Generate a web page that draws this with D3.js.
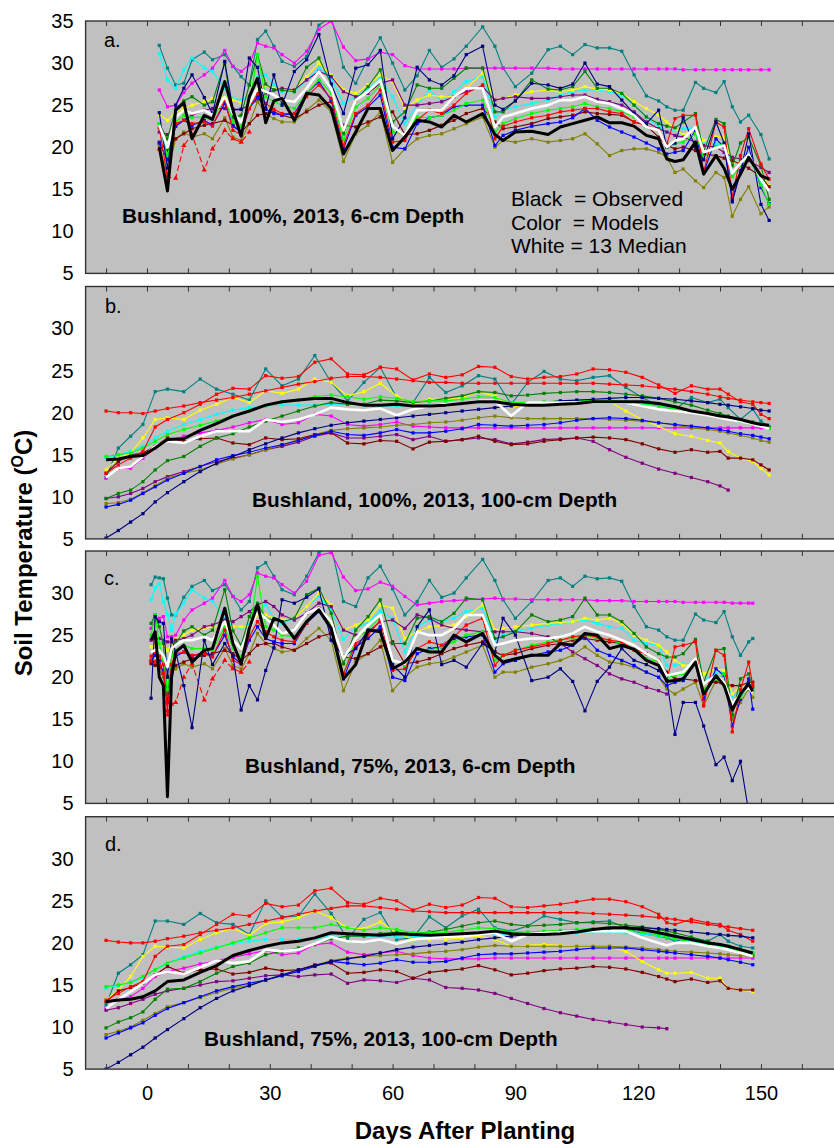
<!DOCTYPE html>
<html>
<head>
<meta charset="utf-8" />
<title>Soil temperature, Bushland 2013</title>
<script src="https://d3js.org/d3.v7.min.js"></script>
<style>
  body { margin: 0; background: #fff; }
  svg { display: block; font-family: "Liberation Sans", Arial, sans-serif; }
</style>
</head>
<body>
<svg width="834" height="1146"></svg>
<script>
// ---- days after planting sampled per panel ----
const daysA = [3,5,7,9,11,14,16,19,21,23,25,27,29,31,33,36,39,42,45,48,51,54,57,60,63,66,69,72,75,78,82,85,87,90,94,98,101,104,107,110,113,116,119,122,125,127,129,131,134,136,139,141,143,145,147,150,152];
const daysC = [1,2,3,4,5,6,7,9,11,14,16,19,21,23,25,27,29,31,33,36,39,42,45,48,51,54,57,60,63,66,69,72,75,78,82,85,87,90,94,98,101,104,107,110,113,116,119,122,125,127,129,131,134,136,139,141,143,145,147,148];
const daysB = [-10,-7,-4,-1,2,5,9,13,17,21,25,29,33,37,41,45,49,53,57,61,65,69,73,77,81,85,89,93,97,101,105,109,113,117,121,125,129,133,137,140,142,145,148,150,152];
const daysD = [-10,-7,-4,-1,2,5,9,13,17,21,25,29,33,37,41,45,49,53,57,61,65,69,73,77,81,85,89,93,97,101,105,109,113,117,121,125,127,129,133,137,140,142,145,148];

const xTicks = [0, 30, 60, 90, 120, 150];
const yTicksTop = [5, 10, 15, 20, 25, 30, 35];
const yTicksRest = [5, 10, 15, 20, 25, 30];

// ---- a. 100%, 6-cm ----
const a_obs = [20.0,14.8,24.4,25.3,21.0, 23.8,23.3,27.8,24.4,21.3, 26.0,28.2,22.9,25.5,25.8, 23.2,26.4,26.2,24.6,19.2, 21.8,24.6,24.6,19.6,21.2, 23.2,23.0,22.4,23.8,23.0, 24.0,21.5,20.8,21.8,21.9, 21.5,22.4,22.8,23.2,23.6, 22.9,22.9,22.5,21.4,21.0, 18.6,18.3,18.5,20.6,16.8, 19.0,17.5,15.0,16.8,18.8, 16.6,16.2];
const a_med = [22.6,20.0,23.6,24.4,24.0, 24.4,23.8,26.0,24.0,23.0, 25.2,27.0,26.6,26.2,25.6, 25.4,27.0,29.0,27.0,22.0, 25.6,26.6,28.0,22.5,21.4, 24.4,24.4,24.4,26.0,27.0, 27.0,22.4,23.6,24.0,24.6, 25.0,25.6,25.6,26.0,25.4, 25.2,24.6,23.8,22.4,22.0, 20.0,20.8,21.0,22.4,19.4, 19.9,20.2,16.9,18.1,19.1, 16.2,14.8];
const a_teal = [32.1,29.4,27.4,27.6,30.4, 31.3,30.4,31.0,29.6,28.4, 27.4,32.8,33.8,32.0,30.2, 29.6,30.8,34.5,35.5,29.5, 27.6,30.5,33.0,30.0,26.8, 28.5,31.5,29.5,30.5,32.0, 34.3,32.0,29.4,27.2,28.8, 31.6,32.0,31.0,32.2,31.8, 31.8,31.4,28.6,26.1,25.5, 24.8,24.4,24.4,27.7,27.0, 26.5,27.8,24.8,23.0,23.8, 21.5,18.6];
const a_mag = [26.8,24.8,25.0,26.5,27.6, 28.6,29.4,31.5,29.6,29.0, 29.8,32.4,32.0,31.8,31.0, 30.0,31.4,34.0,35.0,31.9, 30.3,30.5,31.3,31.0,29.7, 29.3,29.3,29.3,29.3,29.4, 29.4,29.4,29.4,29.4,29.4, 29.4,29.3,29.3,29.3,29.3, 29.3,29.3,29.3,29.3,29.3, 29.3,29.3,29.2,29.2,29.2, 29.2,29.2,29.2,29.2,29.2, 29.2,29.2];
const a_cyan = [31.1,28.0,27.0,29.2,30.6, 29.4,29.0,27.0,25.8,25.6, 26.0,28.3,28.6,27.4,26.6, 26.6,28.0,29.4,28.2,25.2, 26.0,26.9,28.2,26.0,22.8, 25.0,26.8,25.5,26.6,27.8, 28.4,23.6,24.4,24.8,25.2, 25.6,26.2,26.6,26.8,26.8, 26.6,26.2,25.0,23.6,22.4, 21.8,22.0,22.2,22.3,20.5, 20.4,20.4,17.8,18.5,18.8, 15.7,15.3];
const a_yel = [23.9,23.2,24.2,24.6,25.0, 25.4,25.8,26.0,25.6,25.3, 25.2,26.8,27.4,27.0,26.8, 26.8,28.4,30.0,28.6,26.8, 26.4,27.4,28.6,27.8,24.6, 25.6,26.2,26.0,26.0,27.0, 28.8,25.6,25.8,26.2,26.6, 26.8,26.6,26.8,27.2,26.9, 26.8,26.4,25.4,24.6,23.8, 23.0,22.2,21.5,22.2,20.8, 21.2,21.2,18.0,18.4,18.8, 16.8,15.4];
const a_navy = [24.1,17.5,25.0,27.0,28.6, 25.9,24.0,30.2,24.5,24.5, 30.6,29.5,24.6,28.6,25.0, 29.0,30.4,33.4,27.5,24.0, 29.4,29.8,31.5,21.0,23.5, 29.5,28.0,27.4,28.5,31.0, 32.0,25.0,24.5,25.5,27.6, 27.4,27.0,27.5,30.0,27.5, 27.2,25.6,24.0,22.8,24.4, 20.0,20.5,23.5,20.0,18.5, 23.0,20.5,13.5,17.0,21.6, 13.2,11.3];
const a_green = [22.8,21.0,24.5,25.5,26.0, 25.0,25.4,30.0,23.5,23.8, 27.4,31.0,27.5,26.8,26.8, 26.6,29.5,30.6,27.5,21.6, 25.6,27.2,29.2,23.0,24.2, 27.4,27.0,27.0,28.2,29.4, 29.4,24.2,24.2,25.5,28.0, 26.9,26.8,27.2,29.0,27.0, 27.0,26.4,25.0,23.6,22.8, 22.5,22.3,23.0,24.0,19.5, 23.3,22.8,17.8,20.5,21.2, 17.8,13.8];
const a_lime = [22.8,19.0,23.0,23.8,23.5, 23.6,23.2,26.0,23.0,22.5, 25.0,31.0,26.0,25.4,25.0, 24.6,26.4,28.0,26.4,20.8, 24.8,25.8,27.4,21.8,21.5, 23.6,23.5,23.8,24.4,25.2, 25.6,21.8,22.8,23.4,24.0, 24.4,24.6,24.8,25.2,24.8, 24.6,24.2,23.6,22.4,22.0, 20.0,20.4,20.6,21.6,18.8, 20.0,20.5,16.5,17.8,19.0, 15.5,13.2];
const a_red = [22.3,16.5,22.8,23.2,22.8, 23.0,22.5,25.6,22.0,21.5, 24.6,26.4,25.2,24.5,24.0, 24.0,26.0,27.4,25.8,20.2, 24.0,25.0,26.8,20.6,20.8, 23.2,24.4,24.0,25.0,26.4, 27.4,21.0,22.5,23.0,23.5, 23.8,24.2,24.4,24.6,24.6, 24.2,24.0,23.0,22.6,22.0, 20.4,23.4,23.8,23.8,17.0, 23.0,22.4,14.0,19.0,22.2, 18.0,16.2];
const a_red2 = [19.8,16.5,16.3,20.2,21.5, 17.3,19.8,22.0,21.0,20.6, 21.8,null,null,null,null, null,null,null,null,null, null,null,null,null,null, null,null,null,null,null, null,null,null,null,null, null,null,null,null,null, null,null,null,null,null, null,null,null,null,null, null,null,null,null,null, null,null];
const a_purple = [21.8,21.5,22.5,23.2,23.8, 24.4,24.6,24.6,24.4,24.5, 25.0,25.6,26.4,26.8,27.0, 26.8,28.0,29.0,28.4,26.6, 26.0,26.4,27.6,28.0,25.0, 25.0,25.2,25.4,26.0,26.6, 27.2,25.6,25.8,26.0,25.8, 25.8,26.0,26.2,26.2,25.7, 25.4,25.0,24.2,23.0,22.2, 21.8,21.4,21.2,20.6,20.2, 20.0,19.4,18.8,18.6,18.4, 17.6,17.0];
const a_blue = [20.5,18.5,22.5,23.2,22.6, 23.2,22.6,25.2,22.5,21.8, 24.6,26.0,24.5,24.0,23.8, 24.0,26.4,27.8,25.6,19.8, 23.8,24.8,26.2,20.0,19.8, 22.8,23.5,23.8,24.8,25.0, 25.0,20.2,21.4,22.0,22.5, 22.8,23.0,23.5,24.6,23.2, 22.4,21.8,21.2,20.5,19.8, 19.2,19.4,19.6,22.0,17.0, 21.0,20.0,13.8,17.2,20.0, 15.2,13.3];
const a_maroon = [20.6,19.6,21.0,21.6,22.2, 22.6,22.8,23.2,22.6,21.8, 22.8,23.8,24.0,24.2,23.8, 23.4,24.2,25.0,25.4,22.6, 22.4,23.0,23.6,24.2,21.5, 21.6,22.0,22.6,23.2,24.0, 24.6,23.0,22.2,22.4,22.8, 23.4,23.6,23.8,24.2,24.0, 23.9,23.8,23.0,22.6,21.2, 20.2,19.8,20.0,19.6,19.2, 19.0,18.7,18.4,18.0,17.5, 16.5,15.3];
const a_olive = [20.2,16.8,21.0,21.8,21.2, 21.6,21.0,23.5,21.2,20.8, 22.8,25.4,24.0,23.4,23.0, 23.0,24.4,25.6,24.2,18.3, 21.6,22.6,24.2,18.2,19.8, 21.0,21.4,21.6,22.2,22.8, 23.6,20.0,20.8,20.6,21.0, 20.6,20.8,21.0,21.6,20.4, 19.0,19.6,19.8,19.8,19.4, 18.8,17.0,17.4,16.0,15.2, 17.0,16.4,11.8,13.8,15.3, 12.1,12.9];

// ---- b. 100%, 100-cm ----
const b_obs = [14.4,14.5,14.8,14.9,15.8, 16.8,16.9,17.9,18.7,19.6, 20.2,20.9,21.3,21.5,21.7, 21.7,21.2,20.9,20.9,21.0, 20.8,20.8,20.9,21.1,21.3, 21.3,21.0,20.9,20.9,21.0, 21.1,21.3,21.3,21.3,21.3, 21.1,20.7,20.2,19.9,19.6, 19.5,19.2,18.8,18.6,18.5];
const b_med = [12.3,13.4,13.6,14.8,16.0, 16.6,16.4,17.2,17.8,17.8, 17.8,19.2,18.9,19.2,19.8, 20.6,20.4,20.3,20.5,19.7, 20.4,20.8,21.0,21.1,21.4, 21.4,19.6,21.2,21.2,21.2, 21.2,21.2,21.2,21.2,20.8, 20.4,20.2,20.0,19.7,19.4, 19.2,19.0,18.7,18.4,18.1];
const b_teal = [12.3,15.8,17.2,18.6,22.5, 22.8,22.5,24.0,22.8,22.2, 21.5,25.2,23.2,24.0,26.8, 23.6,21.4,23.6,25.4,21.8, 21.2,24.2,22.4,23.2,24.4, 24.0,21.0,23.6,24.9,24.0, 23.8,24.2,24.4,23.0,21.8, 20.8,20.4,21.8,21.2,21.6, 20.6,19.2,20.4,19.0,18.3];
const b_red = [20.2,20.0,20.0,19.9,20.2, 20.5,20.8,21.2,21.5,21.8, 22.2,22.6,23.0,23.4,23.7, 24.1,24.3,24.3,24.2,24.0, 23.8,23.6,23.6,23.5,23.5, 23.5,23.5,23.5,23.5,23.5, 23.5,23.5,23.4,23.3,23.2, 23.0,22.8,22.5,22.2,21.9, 21.7,21.5,21.3,21.2,21.1];
const b_red2 = [12.8,13.8,14.6,15.4,18.3, 19.2,20.0,21.0,22.2,22.9, 22.8,24.4,24.1,24.3,26.0, 26.4,24.6,24.5,25.4,25.2, 23.9,24.6,24.2,24.5,25.5, 25.4,24.3,24.0,24.2,24.3, 24.6,25.2,25.1,24.8,24.2, 23.3,22.3,23.2,22.8,22.8, 22.2,21.3,21.0,19.8,19.3];
const b_yel = [13.2,14.6,15.2,17.0,19.2, 19.4,19.2,20.3,21.0,21.8, 21.2,22.6,22.3,22.8,24.0, 23.6,22.0,22.5,23.5,22.0, 21.0,21.6,21.6,21.8,22.5, 22.0,20.7,20.9,21.1,21.3, 21.4,21.5,21.3,20.2,19.2, 18.4,17.5,17.2,16.7,16.4, 15.4,14.6,14.2,13.4,12.6];
const b_lime = [14.8,15.0,15.2,15.8,16.6, 17.4,18.0,18.5,19.0,19.6, 20.2,20.8,21.3,21.5,21.9, 22.1,21.9,21.6,21.9,21.7, 21.3,21.4,21.4,21.6,21.9, 21.8,21.2,21.2,21.3,21.4, 21.4,21.5,21.5,21.3,21.1, 20.8,20.4,20.1,19.8,19.5, 19.3,19.0,18.7,18.4,18.1];
const b_green = [9.8,10.4,10.8,11.8,13.2, 14.3,14.8,16.0,17.0,17.5, 18.3,19.0,19.6,20.2,20.8, 21.2,21.0,21.0,21.5,21.4, 21.2,21.4,21.7,22.0,22.5, 22.4,22.0,22.1,22.3,22.4, 22.5,22.5,22.4,22.2,22.0, 21.7,21.3,20.9,20.3,19.9, 19.6,19.2,18.9,18.6,18.3];
const b_cyan = [14.6,15.0,15.4,16.0,17.0, 17.8,18.6,19.2,19.8,20.3, 20.6,20.8,20.9,20.9,20.9, 21.0,21.0,20.9,20.8,20.8, 20.8,20.9,21.0,21.1,21.2, 21.2,21.0,21.0,21.0,21.1, 21.2,21.2,21.2,21.2,21.0, 20.8,20.6,20.2,19.8,19.5, 19.3,19.0,18.7,18.5,18.3];
const b_navy = [5.1,6.0,7.0,8.0,9.4, 10.5,11.8,13.0,14.0,14.8, 15.6,16.3,17.0,17.6,18.1, 18.5,18.8,19.0,19.2,19.4, 19.6,19.8,20.0,20.2,20.4, 20.6,20.8,21.0,21.2,21.4, 21.5,21.6,21.7,21.8,21.8, 21.7,21.6,21.4,21.2,21.0, 20.9,20.7,20.5,20.3,20.2];
const b_blue = [8.8,9.1,9.6,10.4,11.2, 12.0,12.8,13.6,14.4,14.9, 15.3,15.8,16.2,16.7,17.3, 17.8,17.4,17.3,17.6,18.0, 17.6,17.6,17.8,18.1,18.6, 18.5,18.4,18.5,18.6,18.8, 19.1,19.3,19.4,19.3,19.1, 18.8,18.6,18.4,18.2,18.0, 17.8,17.5,17.3,17.1,16.9];
const b_mag = [12.2,13.4,13.4,14.6,15.8, 16.6,17.2,17.6,17.9,18.3, 18.8,19.2,18.6,18.8,19.8, 19.6,18.6,18.4,18.6,18.9, 18.4,18.3,18.2,18.2,18.2, 18.2,18.2,18.2,18.2,18.2, 18.2,18.2,18.2,18.2,18.2, 18.2,18.2,18.2,18.2,18.2, 18.2,18.2,18.2,18.2,18.2];
const b_olive = [9.2,9.3,9.7,10.5,11.3, 12.2,12.8,13.2,13.9,14.5, 15.0,15.6,16.2,16.8,17.4, 17.9,18.1,18.2,18.3,18.5, 18.6,18.8,18.9,19.1,19.4, 19.6,19.4,19.3,19.3,19.3, 19.3,19.3,19.2,19.1,19.0, 18.8,18.5,18.2,18.0,17.8, 17.6,17.3,17.0,16.7,16.5];
const b_purple = [9.8,10.0,10.4,11.0,11.8, 12.4,13.0,13.6,14.2,14.6, 15.0,15.6,16.0,16.5,17.2, 17.6,17.0,17.0,17.2,17.4, 16.8,17.2,16.6,16.8,17.0, 16.8,16.3,16.5,16.8,16.9, 17.0,16.6,15.6,14.7,14.0, 13.3,12.8,12.3,11.8,11.3, 10.8,null,null,null,null];
const b_maroon = [12.8,14.2,15.0,15.2,16.0, 17.0,16.6,16.9,17.0,16.4, 16.2,17.0,16.8,16.9,17.4, 17.6,16.4,16.3,16.7,16.6, 15.7,16.5,16.6,16.8,17.2, 16.6,16.2,16.3,16.6,16.8, 17.0,17.1,17.0,16.8,16.3, 15.7,15.3,15.6,15.3,15.4, 14.6,14.6,14.4,13.8,13.2];

// ---- c. 75%, 6-cm ----
const c_obs = [24.4,25.4,20.0,19.0,5.8, 20.0,23.0,23.8,21.8,23.2, 23.4,28.2,24.0,21.6,25.8, 28.6,24.6,27.0,26.6,24.6, 26.6,28.0,25.8,19.8,21.5, 25.6,25.4,21.0,21.8,23.4, 23.0,23.0,25.0,24.2,25.2, 22.6,21.8,22.2,22.6,22.6, 24.0,23.8,25.2,25.0,23.4, 23.8,23.3,22.0,21.4,19.5, 19.6,19.8,21.8,18.0,20.2, 19.0,16.1,18.0,19.2,18.3];
const c_med = [23.0,23.2,23.2,22.6,21.2, 23.4,23.8,24.4,24.4,24.8, 24.4,26.6,24.4,23.4,25.6, 27.8,27.0,26.2,25.2,25.6, 27.6,28.2,26.6,22.2,24.6, 26.2,27.4,22.0,21.6,25.4, 25.0,25.0,25.8,27.4,27.4, 23.8,24.0,24.4,24.6,24.6, 24.8,25.2,26.0,25.4,25.0, 24.4,23.8,22.8,22.0,20.2, 20.4,20.6,22.2,19.2,20.2, 19.4,16.8,18.0,18.8,18.1];
const c_teal = [31.0,31.9,31.8,31.7,29.4, 27.4,27.4,29.5,30.8,31.5, 30.3,31.0,29.6,28.0,29.0, 33.0,33.6,32.0,30.4,29.8, 32.0,34.8,35.5,29.0,28.4, 31.8,33.2,30.5,27.4,29.0, 31.5,29.5,30.0,31.8,34.0, 31.5,29.2,27.0,29.0,31.5, 31.8,30.8,32.0,31.7,31.8, 31.4,28.4,26.0,25.6,24.8, 24.4,24.4,27.5,26.8,26.5, 27.8,24.8,22.6,24.2,24.6];
const c_mag = [25.8,26.8,27.0,27.2,24.8, 24.8,25.0,26.8,28.0,28.8, 29.4,31.5,29.6,29.0,29.8, 32.4,32.0,31.8,31.0,30.0, 31.4,34.5,34.8,31.9,30.3, 30.5,31.3,30.8,29.6,28.6, 28.8,29.0,29.1,29.2,29.3, 29.4,29.3,29.3,29.2,29.2, 29.2,29.2,29.2,29.1,29.1, 29.1,29.0,29.0,29.0,29.0, 29.0,28.9,28.9,28.9,28.9, 28.9,28.8,28.8,28.8,28.8];
const c_cyan = [29.2,30.6,31.1,29.0,27.5, 25.6,27.5,28.8,30.4,29.4, 29.0,27.0,26.0,25.8,26.2, 28.0,28.6,27.0,26.4,27.0, 28.4,29.6,28.0,24.5,25.8, 26.5,27.8,27.0,23.0,26.0, 26.8,26.6,27.0,27.8,28.2, 24.4,25.0,25.4,25.8,26.2, 26.4,26.6,26.8,26.4,26.0, 25.8,24.4,24.0,23.8,21.4, 21.4,21.6,21.6,19.6,20.4, 20.6,17.7,18.2,18.8,18.5];
const c_yel = [23.6,23.8,24.0,23.8,23.2, 24.0,24.6,25.0,25.6,25.8, 26.0,26.2,26.0,26.0,26.0, 27.4,27.4,27.0,26.8,27.0, 28.4,30.0,28.6,25.6,26.2, 26.8,28.6,28.2,24.6,25.4, 26.0,26.1,26.2,27.2,28.6, 25.6,25.8,26.0,26.2,26.4, 26.5,26.6,27.0,26.8,27.0, 26.4,25.0,24.4,23.8,23.0, 22.0,21.4,21.6,20.4,21.0, 20.8,18.0,19.0,19.4,19.2];
const c_navy = [17.5,27.2,26.6,26.4,20.0, 24.6,23.0,19.0,14.0,24.4, 21.5,24.0,22.5,16.1,19.0, 17.3,20.8,23.5,29.2,28.8, 29.5,30.5,24.4,22.5,23.4, 25.6,25.6,21.5,20.0,26.0, 28.0,21.5,22.0,21.2,24.0, 23.0,27.0,25.0,19.6,20.0, 21.0,19.5,16.0,19.5,21.2, 23.4,22.0,21.5,20.8,19.6, 13.2,17.0,17.0,14.2,9.6, 10.5,7.7,10.0,4.0,null];
const c_green = [26.4,27.4,26.0,24.0,17.7, 23.0,24.0,25.5,26.0,25.0, 25.6,30.4,25.5,23.8,27.2, 28.8,27.0,26.8,26.6,27.0, 29.8,30.6,27.6,21.6,25.6, 27.2,29.2,24.0,24.0,27.0, 27.2,26.6,27.6,29.4,29.2, 24.6,24.8,25.4,27.4,26.6, 26.8,27.2,29.4,27.4,27.4, 26.6,25.2,23.6,22.8,22.4, 22.4,22.8,24.5,19.4,23.2, 23.4,15.5,19.8,20.4,18.8];
const c_lime = [25.0,27.4,24.0,22.0,18.5, 22.5,23.2,23.8,23.4,23.4, 23.2,26.0,23.4,22.4,25.0, 32.0,26.0,25.6,25.0,24.8, 26.6,28.2,26.2,20.4,24.6, 25.6,27.2,22.0,21.4,23.4, 23.2,23.6,24.2,25.0,25.4, 22.0,22.6,23.2,23.8,24.2, 24.4,24.6,25.0,24.6,24.4, 24.0,23.4,22.2,21.8,20.0, 20.2,20.4,21.4,18.6,19.8, 20.4,16.3,17.6,18.8,18.2];
const c_red = [22.5,23.0,22.5,21.5,16.0, 21.5,22.8,23.0,22.6,22.8, 22.4,25.6,22.0,21.5,24.8, 26.6,25.4,24.8,24.4,24.2, 26.4,28.2,26.0,20.4,24.0, 25.0,26.8,20.8,21.0,23.4, 24.2,23.8,24.8,26.2,27.0, 21.4,22.6,23.2,23.6,24.0, 24.4,24.8,25.0,24.8,24.4, 24.2,23.2,22.8,22.0,19.6, 23.6,23.8,24.2,16.6,23.2, 22.6,13.5,18.5,21.8,19.0];
const c_red2 = [22.0,21.8,21.5,20.5,15.5, 16.8,17.0,20.0,21.6,17.3, 19.8,22.0,21.0,20.6,21.8, null,null,null,null,null, null,null,null,null,null, null,null,null,null,null, null,null,null,null,null, null,null,null,null,null, null,null,null,null,null, null,null,null,null,null, null,null,null,null,null, null,null,null,null,null];
const c_purple = [24.4,24.6,24.6,24.4,24.2, 24.2,24.4,24.6,25.0,26.0, 26.2,26.8,26.6,27.2,27.8, 28.6,29.0,28.4,27.4,26.8, 27.6,28.8,28.4,25.6,25.0, 25.4,26.6,26.8,25.8,27.4, 27.0,26.2,25.8,25.6,25.4, 25.4,25.4,25.4,25.2,24.8, 24.0,23.0,22.2,21.4,20.4, 19.8,19.4,18.8,18.4,18.0, null,null,null,null,null, null,null,null,null,null];
const c_blue = [22.0,22.6,22.0,20.5,17.0, 21.5,22.5,23.0,22.5,23.0, 22.5,25.0,22.4,21.6,24.4, 26.0,24.6,24.2,24.0,24.0, 26.4,27.8,25.6,19.8,23.6, 24.6,26.0,20.0,19.6,22.8, 23.4,23.6,24.6,24.8,25.0, 20.6,21.6,22.0,22.6,23.0, 23.2,23.8,24.8,23.2,22.6, 22.0,21.4,20.6,20.0,19.0, 19.4,19.6,21.6,17.4,21.0, 20.2,14.2,17.4,19.8,16.2];
const c_maroon = [21.6,21.4,21.2,20.8,20.0, 20.8,21.4,21.8,22.2,22.6, 22.8,23.2,22.8,22.0,22.8, 23.8,24.0,24.0,23.6,23.2, 24.0,24.8,25.2,22.4,22.2, 22.8,23.6,24.2,21.6,21.8, 22.2,22.8,23.4,23.8,24.2, 23.0,22.6,22.8,23.4,23.8, 24.0,24.4,24.6,24.4,24.2, 24.0,23.4,22.8,21.8,20.6, 19.8,19.8,19.6,19.4,19.4, 19.2,19.0,19.0,19.4,19.4];
const c_olive = [21.8,21.6,21.0,20.0,17.0, 20.5,21.0,21.6,21.2,21.6, 21.0,23.4,21.4,21.0,22.8, 25.2,24.0,23.4,23.0,23.2, 24.6,25.8,24.4,18.4,21.8, 22.8,24.4,18.4,20.0,21.2, 21.6,21.8,22.4,23.0,23.8, 20.0,20.6,20.6,21.2,21.6, 22.0,22.6,23.6,22.6,21.8, 21.6,21.2,20.6,20.0,18.6, 18.0,18.6,19.4,16.6,19.6, 19.0,15.0,17.0,18.6,17.6];

// ---- d. 75%, 100-cm ----
const d_obs = [13.0,13.2,13.3,13.6,14.3, 15.4,15.6,16.5,17.3,18.5, 19.1,19.6,20.0,20.2,20.6, 21.2,21.1,21.0,20.9,21.1, 21.0,20.9,21.0,21.1,21.2, 21.4,21.1,21.0,21.0,21.1, 21.3,21.6,21.8,21.8,21.6, 21.2,21.0,20.8,20.4,20.0, 19.8,19.6,19.2,18.8];
const d_med = [12.2,13.3,14.2,15.2,16.2, 16.6,16.3,17.1,17.9,17.6, 17.8,19.2,19.0,19.2,19.9, 20.7,20.2,20.1,20.4,19.9, 20.4,20.6,20.7,20.8,21.0, 21.2,20.2,21.0,21.2,21.3, 21.4,21.4,21.4,21.4,20.6, 20.0,19.7,20.0,20.0,19.6, 19.4,19.2,18.8,18.4];
const d_teal = [12.6,16.4,17.4,18.6,22.6, 22.6,22.2,23.5,22.4,22.2, 21.0,25.0,23.1,23.2,25.8, 23.5,20.5,22.8,23.6,20.4, 20.6,23.1,21.8,23.2,24.0, 21.8,21.4,22.0,23.2,22.8, 22.4,22.5,22.6,21.8,21.1, 20.8,20.6,20.2,20.6,20.2, 21.0,20.2,19.6,19.4];
const d_red = [20.3,20.1,20.0,20.0,20.2, 20.5,20.8,21.2,21.5,21.8, 22.2,22.6,23.0,23.4,23.8, 24.1,24.4,24.4,24.2,24.0, 23.8,23.7,23.6,23.6,23.6, 23.6,23.6,23.6,23.6,23.6, 23.6,23.5,23.4,23.3,23.2, 23.0,22.9,22.8,22.5,22.2, 22.0,21.9,21.7,21.5];
const d_red2 = [13.2,14.0,14.8,15.4,18.4, 19.6,19.8,21.0,22.2,23.4, 23.2,24.7,24.3,24.5,26.2, 26.5,24.8,24.6,25.3,25.0, 23.9,24.6,24.2,24.5,25.4, 25.3,24.3,24.2,24.4,24.6, 24.9,25.2,25.2,24.9,24.3, 23.4,22.4,22.2,22.8,22.4, 22.2,21.5,21.0,20.2];
const d_yel = [13.2,14.4,16.0,18.4,19.6, 19.5,19.4,20.4,21.2,21.7, 20.9,22.3,22.5,23.0,23.8, 23.0,21.8,21.7,22.5,21.2, 20.4,20.4,20.4,20.6,20.8, 20.4,19.6,19.7,19.8,19.7, 19.6,19.6,19.5,19.0,17.8, 16.8,16.4,16.4,16.5,15.8, 15.8,14.6,14.4,14.2];
const d_lime = [14.8,15.0,15.3,16.0,16.8, 17.6,18.2,18.8,19.4,20.0, 20.6,21.2,21.8,21.8,21.8, 22.2,21.8,21.5,21.8,21.6, 21.2,21.2,21.3,21.5,21.8, 21.7,21.3,21.3,21.4,21.5, 21.6,21.7,21.7,21.5,21.3, 20.9,20.7,20.5,20.1,19.7, 19.5,19.3,19.0,18.8];
const d_green = [9.9,10.6,11.1,11.8,13.3, 14.5,14.6,15.4,16.4,17.2, 17.6,18.6,19.0,19.4,19.8, 20.5,20.8,20.8,21.1,21.3, 21.1,21.3,21.6,22.0,22.4, 22.6,22.2,22.0,22.1,22.2, 22.4,22.4,22.3,22.1,21.9, 21.6,21.4,21.2,20.7,20.2, 19.8,19.6,19.2,18.6];
const d_cyan = [14.6,14.9,15.3,15.9,16.8, 17.6,18.4,19.0,19.5,19.9, 20.2,20.4,20.4,20.4,20.5, 20.8,20.9,20.8,20.7,20.7, 20.7,20.8,20.9,21.0,21.1, 21.1,21.0,21.0,21.0,21.1, 21.2,21.3,21.3,21.2,21.1, 20.8,20.7,20.5,20.2,19.8, 19.6,19.4,19.0,18.7];
const d_navy = [5.0,5.8,6.7,7.6,8.7, 9.7,11.0,12.3,13.4,14.3, 14.9,15.6,16.2,16.8,17.3, 17.8,18.1,18.4,18.8,19.2, 19.5,19.7,19.9,20.1,20.4, 20.6,20.8,21.0,21.2,21.3, 21.4,21.6,21.7,21.8,21.8, 21.7,21.6,21.5,21.3,21.1, 21.0,20.9,20.8,20.6];
const d_blue = [8.7,9.3,9.9,10.5,11.4, 12.2,12.9,13.6,14.3,14.8, 15.2,15.6,16.1,16.6,17.2, 17.8,17.6,17.4,17.6,18.0, 17.7,17.7,17.8,18.2,18.6, 18.7,18.7,18.8,18.9,19.0, 19.2,19.4,19.4,19.4,19.2, 19.0,18.9,18.8,18.6,18.4, 18.2,18.0,17.7,17.4];
const d_mag = [12.2,13.2,13.6,14.6,16.0, 16.6,17.0,17.5,17.9,18.3, 18.7,19.1,18.6,18.8,19.8, 20.0,18.9,18.6,18.8,19.0, 18.5,18.2,18.1,18.1,18.1, 18.2,18.2,18.2,18.2,18.2, 18.2,18.2,18.2,18.2,18.2, 18.2,18.2,18.2,18.2,18.2, 18.2,18.2,18.2,18.2];
const d_purple = [12.0,12.3,12.8,13.3,13.9, 14.3,14.6,15.0,15.4,15.5, 15.8,16.1,16.2,16.0,16.2, 16.3,15.2,15.6,15.5,15.3, 15.8,15.6,14.7,14.6,14.4, 14.0,13.4,12.8,12.2,11.7, 11.3,10.9,10.6,10.3,10.0, 9.9,9.8,null,null,null, null,null,null,null];
const d_maroon = [13.0,14.3,14.7,15.2,16.2, 17.2,16.4,16.8,16.9,16.3, 16.5,17.0,16.7,16.8,17.4, 17.6,16.4,16.5,16.8,16.6, 15.8,16.5,16.7,16.9,17.3, 16.8,16.2,16.4,16.7,16.9, 17.0,17.2,17.1,16.9,16.5, 16.0,15.7,15.4,15.7,15.3, 15.5,14.6,14.4,14.4];
const d_olive = [9.1,9.5,10.0,10.8,11.6, 12.4,12.9,13.5,14.1,14.6, 15.0,15.6,16.1,16.7,17.3, 17.9,18.2,18.4,18.5,18.6, 18.7,18.9,19.0,19.2,19.5, 19.7,19.6,19.6,19.6,19.6, 19.6,19.6,19.6,19.5,19.4, 19.2,19.1,19.0,18.9,18.8, 18.7,18.6,18.5,18.4];

// model colours, drawn in this order
const models = [
  { key: "teal", color: "#008080" },
  { key: "mag", color: "#ff00ff" },
  { key: "cyan", color: "#00ffff" },
  { key: "yel", color: "#ffff00" },
  { key: "purple", color: "#800080" },
  { key: "olive", color: "#808000" },
  { key: "maroon", color: "#800000" },
  { key: "blue", color: "#0000ff" },
  { key: "green", color: "#008000" },
  { key: "lime", color: "#00ff00" },
  { key: "red", color: "#ff0000" },
  { key: "red2", color: "#ff0000" },
  { key: "navy", color: "#000080" }
];

const panels = [
  { id: "a", top: 21, days: daysA, yTicks: yTicksTop, letter: "a.", lx: 104, ly: 47,
    title: "Bushland, 100%, 2013, 6-cm Depth", tx: 122, ty: 223, dashed: true,
    obs: a_obs, med: a_med,
    s: { teal: a_teal, mag: a_mag, cyan: a_cyan, yel: a_yel, purple: a_purple, olive: a_olive, maroon: a_maroon, blue: a_blue, green: a_green, lime: a_lime, red: a_red, red2: a_red2, navy: a_navy } },
  { id: "b", top: 286.5, days: daysB, yTicks: yTicksRest, letter: "b.", lx: 105, ly: 313,
    title: "Bushland, 100%, 2013, 100-cm Depth", tx: 252, ty: 507, dashed: false,
    obs: b_obs, med: b_med,
    s: { teal: b_teal, mag: b_mag, cyan: b_cyan, yel: b_yel, purple: b_purple, olive: b_olive, maroon: b_maroon, blue: b_blue, green: b_green, lime: b_lime, red: b_red, red2: b_red2, navy: b_navy } },
  { id: "c", top: 551, days: daysC, yTicks: yTicksRest, letter: "c.", lx: 104, ly: 585,
    title: "Bushland, 75%, 2013, 6-cm Depth", tx: 245, ty: 773, dashed: true,
    obs: c_obs, med: c_med,
    s: { teal: c_teal, mag: c_mag, cyan: c_cyan, yel: c_yel, purple: c_purple, olive: c_olive, maroon: c_maroon, blue: c_blue, green: c_green, lime: c_lime, red: c_red, red2: c_red2, navy: c_navy } },
  { id: "d", top: 816.7, days: daysD, yTicks: yTicksRest, letter: "d.", lx: 105, ly: 851,
    title: "Bushland, 75%, 2013, 100-cm Depth", tx: 204, ty: 1046, dashed: false,
    obs: d_obs, med: d_med,
    s: { teal: d_teal, mag: d_mag, cyan: d_cyan, yel: d_yel, purple: d_purple, olive: d_olive, maroon: d_maroon, blue: d_blue, green: d_green, lime: d_lime, red: d_red, red2: d_red2, navy: d_navy } }
];

const svg = d3.select("svg");
const panelH = 252.4;
const left = 85.6;
const x = d3.scaleLinear().domain([-15, 170]).range([left, left + 185 * 4.093]);

panels.forEach((p, pi) => {
  const y = d3.scaleLinear().domain([5, 35]).range([p.top + panelH, p.top]);
  const g = svg.append("g");

  g.append("clipPath").attr("id", "clip-" + p.id)
    .append("rect").attr("x", x(-15)).attr("y", p.top).attr("width", x(170) - x(-15)).attr("height", panelH);

  g.append("rect")
    .attr("x", x(-15)).attr("y", p.top)
    .attr("width", x(170) - x(-15)).attr("height", panelH)
    .attr("fill", "#c0c0c0");

  const plot = g.append("g").attr("clip-path", `url(#clip-${p.id})`);
  const pts = arr => p.days.map((d, i) => [d, arr[i]]);
  const line = d3.line().defined(d => d[1] != null).x(d => x(d[0])).y(d => y(d[1]));

  models.forEach(m => {
    const data = pts(p.s[m.key]);
    const isDash = m.key === "red2" && p.dashed;
    plot.append("path").datum(data)
      .attr("d", line).attr("fill", "none")
      .attr("stroke", m.color).attr("stroke-width", 1.1)
      .attr("stroke-dasharray", isDash ? "6,3" : null);
    const dots = data.filter(d => d[1] != null);
    if (isDash) {
      plot.selectAll(null).data(dots).enter().append("path")
        .attr("d", d3.symbol(d3.symbolTriangle, 12))
        .attr("transform", d => `translate(${x(d[0])},${y(d[1])})`)
        .attr("fill", m.color);
    } else {
      plot.selectAll(null).data(dots).enter().append("rect")
        .attr("x", d => x(d[0]) - 1.6).attr("y", d => y(d[1]) - 1.6)
        .attr("width", 3.2).attr("height", 3.2)
        .attr("fill", m.color);
    }
  });

  plot.append("path").datum(pts(p.med))
    .attr("d", line).attr("fill", "none")
    .attr("stroke", "#ffffff").attr("stroke-width", 2.6).attr("stroke-linejoin", "round");
  plot.append("path").datum(pts(p.obs))
    .attr("d", line).attr("fill", "none")
    .attr("stroke", "#000000").attr("stroke-width", 3).attr("stroke-linejoin", "round");

  // frame
  g.append("rect")
    .attr("x", x(-15)).attr("y", p.top)
    .attr("width", x(170) - x(-15)).attr("height", panelH)
    .attr("fill", "none").attr("stroke", "#333").attr("stroke-width", 1.4);

  // inward minor ticks every 10 days, top and bottom
  const minor = d3.range(-10, 170, 10);
  g.append("g").attr("transform", `translate(0,${p.top + panelH})`)
    .call(d3.axisBottom(x).tickValues(minor).tickSize(-5).tickFormat(""))
    .call(a => a.select(".domain").remove())
    .selectAll("line").attr("stroke", "#333");
  g.append("g").attr("transform", `translate(0,${p.top})`)
    .call(d3.axisTop(x).tickValues(minor).tickSize(-5).tickFormat(""))
    .call(a => a.select(".domain").remove())
    .selectAll("line").attr("stroke", "#333");

  // y labels
  const ya = g.append("g").attr("transform", `translate(${left},0)`)
    .call(d3.axisLeft(y).tickValues(p.yTicks).tickSize(0).tickPadding(12));
  ya.select(".domain").remove();
  ya.selectAll("text").attr("font-size", 20).attr("font-family", "Liberation Sans, Arial, sans-serif").attr("fill", "#000");

  g.append("text").attr("x", p.lx).attr("y", p.ly)
    .attr("font-size", 20).text(p.letter);
  g.append("text").attr("x", p.tx).attr("y", p.ty)
    .attr("font-size", 20.8).attr("font-weight", "bold").text(p.title);

  if (pi === panels.length - 1) {
    const xa = g.append("g").attr("transform", `translate(0,${p.top + panelH})`)
      .call(d3.axisBottom(x).tickValues(xTicks).tickSize(0).tickPadding(16.5));
    xa.select(".domain").remove();
    xa.selectAll("text").attr("font-size", 20).attr("font-family", "Liberation Sans, Arial, sans-serif").attr("fill", "#000");
  }
});

// legend note in panel a
const note = ["Black  = Observed", "Color  = Models", "White = 13 Median"];
svg.append("g").selectAll("text").data(note).enter().append("text")
  .attr("x", 511).attr("y", (d, i) => 206 + i * 23.5)
  .attr("font-size", 21).style("white-space", "pre").text(d => d);

// axis titles
svg.append("text")
  .attr("x", 465).attr("y", 1139).attr("text-anchor", "middle")
  .attr("font-size", 24).attr("font-weight", "bold")
  .text("Days After Planting");

const yt = svg.append("text")
  .attr("transform", "translate(32,553) rotate(-90)")
  .attr("text-anchor", "middle")
  .attr("font-size", 24).attr("font-weight", "bold");
yt.append("tspan").text("Soil Temperature (");
yt.append("tspan").attr("font-size", 16).attr("dy", -9).text("O");
yt.append("tspan").attr("dy", 9).text("C)");
</script>
</body>
</html>
